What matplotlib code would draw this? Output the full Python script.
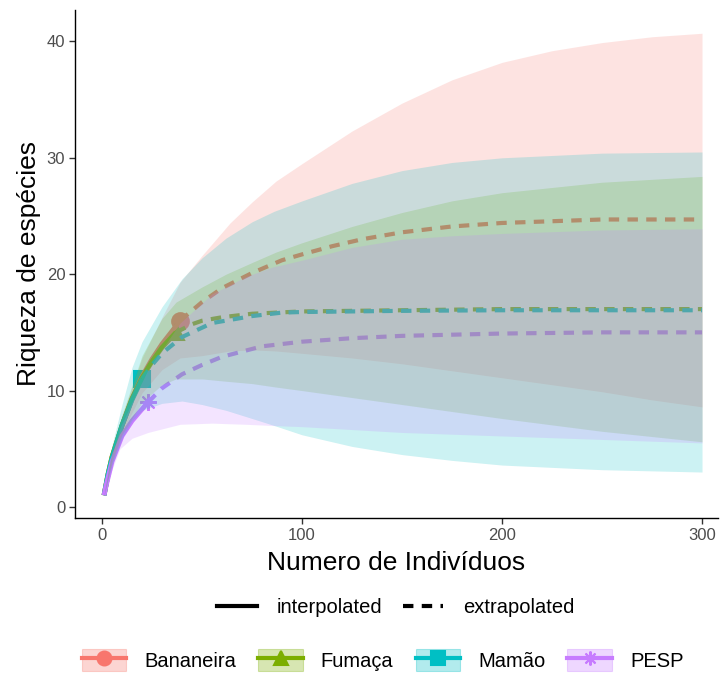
import matplotlib
matplotlib.use("Agg")
import matplotlib.pyplot as plt
from matplotlib.lines import Line2D
from matplotlib.patches import Patch

plt.rcParams["font.family"] = ["Liberation Sans", "DejaVu Sans"]

groups = ["Bananeira", "Fumaça", "Mamão", "PESP"]
colors = ["#F8766D", "#7CAE00", "#00BFC4", "#C77CFF"]
markers = ["o", "^", "s", (8, 2, 0)]

# observed sample (individuals, species)
obs_n = [39, 37, 20, 23]
obs_s = [16.0, 15.0, 11.0, 9.0]

# interpolated (rarefaction) curves
int_x = [
    [1, 2, 3, 5, 10, 15, 20, 25, 30, 35, 39],
    [1, 2, 3, 5, 10, 15, 20, 25, 30, 37],
    [1, 2, 3, 5, 10, 15, 20],
    [1, 2, 3, 5, 10, 15, 20, 23],
]
int_y = [
    [1, 1.9, 2.8, 4.3, 7.0, 9.3, 11.2, 12.7, 14.0, 15.1, 16.0],
    [1, 1.9, 2.8, 4.3, 7.0, 9.3, 11.1, 12.5, 13.7, 15.0],
    [1, 1.9, 2.8, 4.2, 7.0, 9.2, 11.0],
    [1, 1.8, 2.5, 3.9, 6.1, 7.4, 8.4, 9.0],
]

# extrapolated curves
ext_x = [
    [39, 50, 60, 75, 90, 100, 115, 130, 150, 175, 200, 250, 300],
    [37, 45, 50, 60, 75, 100, 150, 200, 300],
    [20, 25, 30, 40, 55, 75, 90, 100, 150, 200, 300],
    [23, 30, 40, 50, 60, 80, 100, 125, 150, 200, 250, 300],
]
ext_y = [
    [16.0, 17.6, 18.8, 20.1, 21.2, 21.7, 22.4, 23.0, 23.6, 24.1, 24.4, 24.7, 24.7],
    [15.0, 15.7, 16.0, 16.3, 16.6, 16.8, 16.9, 17.0, 17.0],
    [11.0, 12.2, 13.2, 14.6, 15.8, 16.4, 16.7, 16.75, 16.85, 16.9, 16.9],
    [9.0, 10.2, 11.4, 12.2, 12.9, 13.8, 14.2, 14.5, 14.7, 14.9, 15.0, 15.0],
]

# 95% confidence bands
band_x = [
    [1, 5, 10, 20, 30, 39, 50, 64, 75, 87, 100, 125, 150, 175, 200, 225, 250, 275, 300],
    [1, 5, 10, 20, 30, 37, 50, 62, 75, 87, 100, 125, 150, 175, 200, 250, 300],
    [1, 5, 10, 15, 20, 30, 40, 50, 62, 75, 86, 100, 125, 150, 175, 200, 250, 300],
    [1, 5, 9, 15, 23, 39, 55, 72, 85, 100, 125, 150, 175, 200, 250, 300],
]
band_lo = [
    [1, 4.0, 6.4, 9.8, 11.8, 12.8, 13.0, 13.4, 13.5, 13.4, 13.2, 12.8, 12.3, 11.7,
     11.1, 10.5, 9.9, 9.2, 8.6],
    [1, 3.8, 6.2, 9.0, 10.5, 11.0, 11.0, 10.8, 10.6, 10.3, 10.0, 9.4, 8.8, 8.2,
     7.6, 6.5, 5.6],
    [1, 3.6, 5.9, 7.4, 8.3, 8.9, 9.1, 8.8, 8.3, 7.6, 7.0, 6.2, 5.2, 4.5, 4.0,
     3.6, 3.2, 3.0],
    [1, 3.2, 5.0, 5.9, 6.4, 7.1, 7.2, 7.1, 7.0, 6.9, 6.65, 6.4, 6.25, 6.1, 5.8, 5.5],
]
band_hi = [
    [1, 4.8, 7.8, 12.8, 16.3, 19.3, 21.6, 24.4, 26.2, 28.0, 29.5, 32.3, 34.7, 36.7,
     38.2, 39.2, 39.9, 40.4, 40.7],
    [1, 4.8, 7.9, 13.0, 16.2, 17.6, 18.9, 20.0, 21.0, 21.9, 22.7, 24.1, 25.3, 26.3,
     27.0, 27.9, 28.4],
    [1, 5.3, 8.8, 12.0, 14.2, 17.2, 19.6, 21.4, 23.1, 24.5, 25.4, 26.3, 27.8, 28.9,
     29.6, 30.0, 30.4, 30.5],
    [1, 4.3, 6.8, 9.0, 11.8, 15.8, 18.3, 19.8, 20.6, 21.2, 22.3, 23.0, 23.3, 23.5,
     23.8, 23.9],
]

fig = plt.figure(figsize=(7.22, 6.79), dpi=100)
ax = fig.add_axes([0.1039, 0.2371, 0.8906, 0.7482])

dash = (0, (2.5, 2))
for i in range(len(groups)):
    ax.plot(obs_n[i], obs_s[i], marker=markers[i], color=colors[i],
            markersize=12, mew=1.5, linestyle="none", zorder=2)
for i in range(len(groups)):
    ax.plot(int_x[i], int_y[i], color=colors[i], lw=3.5, zorder=2,
            solid_capstyle="butt")
    ax.plot(ext_x[i], ext_y[i], color=colors[i], lw=3, linestyle=dash, zorder=2)
for i in range(len(groups)):
    ax.fill_between(band_x[i], band_lo[i], band_hi[i], color=colors[i],
                    alpha=0.2, lw=0, zorder=3)

ax.set_xlim(-13.5, 308)
ax.set_ylim(-0.95, 42.7)
ax.set_xticks([0, 100, 200, 300])
ax.set_yticks([0, 10, 20, 30, 40])
for s in ["top", "right"]:
    ax.spines[s].set_visible(False)
for s in ["left", "bottom"]:
    ax.spines[s].set_linewidth(1.0)
    ax.spines[s].set_color("black")
ax.tick_params(length=4, width=1, color="#333333", labelsize=12,
               labelcolor="#4D4D4D", pad=3)
ax.set_xlabel("Numero de Indivíduos", fontsize=19, labelpad=6)
ax.set_ylabel("Riqueza de espécies", fontsize=19, labelpad=4)

# line type legend
lt_handles = [
    Line2D([], [], color="black", lw=3),
    Line2D([], [], color="black", lw=3, linestyle=dash),
]
fig.legend(lt_handles, ["interpolated", "extrapolated"], loc="center",
           bbox_to_anchor=(0.548, 0.1046), ncol=2, frameon=False,
           fontsize=14.5, handlelength=2.0, handletextpad=1.0,
           columnspacing=1.0)

# group legend
grp_handles = []
for i in range(len(groups)):
    box = Patch(facecolor=colors[i], alpha=0.3, edgecolor=colors[i], lw=0.8)
    ln = Line2D([], [], color=colors[i], lw=3, marker=markers[i], markersize=10,
                mew=1.5)
    grp_handles.append((box, ln))
fig.legend(grp_handles, groups, loc="center",
           bbox_to_anchor=(0.530, 0.028), ncol=4, frameon=False,
           fontsize=14.5, handlelength=2.2, handleheight=1.25,
           handletextpad=0.9, columnspacing=1.1)

fig.savefig("out.png", dpi=100)
